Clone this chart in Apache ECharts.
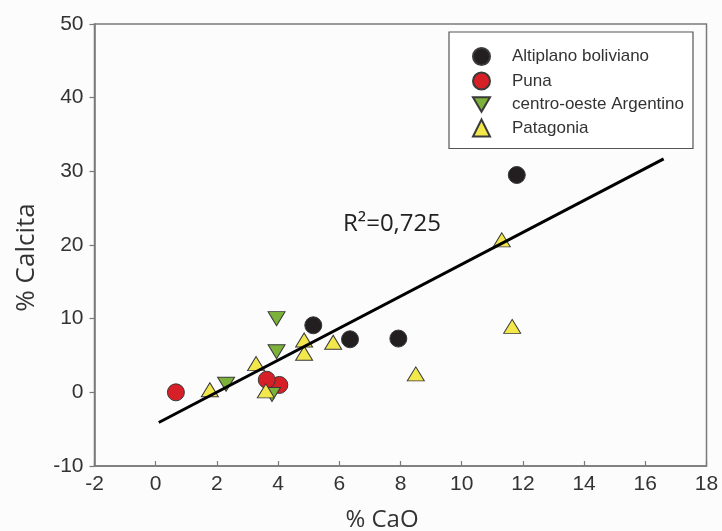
<!DOCTYPE html>
<html>
<head>
<meta charset="utf-8">
<style>
  html, body { margin: 0; padding: 0; background: #fcfcfc; }
  #chart { width: 722px; height: 531px; }
</style>
<script src="https://cdn.jsdelivr.net/npm/echarts@6/dist/echarts.min.js"></script>
</head>
<body>
<div id="chart"></div>
<script>
// Sample groups: [% CaO, % Calcita]
const altiplanoBoliviano = [[5.15, 9.1], [6.35, 7.2], [7.93, 7.3], [11.8, 29.5]];
const puna = [[0.66, 0.0], [4.04, 1.0], [3.63, 1.7]];
const centroOesteArgentino = [[3.8, -0.3], [2.3, 1.1], [3.95, 5.5], [3.95, 10.0]];
const patagonia = [[1.77, 0.35], [3.28, 3.9], [3.6, 0.2], [4.85, 7.1], [4.85, 5.3],
                   [5.8, 6.8], [8.5, 2.5], [11.31, 20.7], [11.65, 8.95]];

// Linear fit endpoints
const fitLine = [[0.1, -4.1], [16.6, 31.7]];
const r2Label = 'R²=0,725';

const seriesNames = ['Altiplano boliviano', 'Puna', 'centro-oeste Argentino', 'Patagonia'];
const xRange = { min: -2, max: 18, step: 2 };
const yRange = { min: -10, max: 50, step: 10 };

const axisGrey = '#7a7a7a';
const labelFont = 'Liberation Sans';
const titleFont = 'Open Sans';
const downTriangle = 'path://M0,0 L20,0 L10,17 Z';
const markerBorder = { borderColor: '#3a3a3a', borderWidth: 1 };

const chart = echarts.init(document.getElementById('chart'), null, { renderer: 'canvas' });

chart.setOption({
  backgroundColor: '#fcfcfc',
  animation: false,
  grid: {
    left: 94.5, top: 24, width: 612, height: 442,
    outerBoundsMode: 'none', containLabel: false,
    show: true, borderColor: axisGrey, borderWidth: 1.5, backgroundColor: 'transparent'
  },
  xAxis: {
    type: 'value', min: xRange.min, max: xRange.max, interval: xRange.step,
    name: '% CaO', nameLocation: 'middle', nameGap: 42,
    nameTextStyle: { fontFamily: titleFont, fontSize: 24, color: '#333', padding: [0, 37, 0, 0] },
    axisLine: { onZero: false, lineStyle: { color: axisGrey, width: 1.5 } },
    axisTick: { inside: true, length: 5, lineStyle: { color: axisGrey, width: 1.2 } },
    axisLabel: { fontFamily: labelFont, fontSize: 21, color: '#333', margin: 8 },
    splitLine: { show: false }
  },
  yAxis: {
    type: 'value', min: yRange.min, max: yRange.max, interval: yRange.step,
    name: '% Calcita', nameLocation: 'middle', nameGap: 55,
    nameTextStyle: { fontFamily: titleFont, fontSize: 26, color: '#333', padding: [0, 25, 0, 0] },
    axisLine: { onZero: false, lineStyle: { color: axisGrey, width: 1.5 } },
    axisTick: { inside: false, length: 5, lineStyle: { color: axisGrey, width: 1.2 } },
    axisLabel: { fontFamily: labelFont, fontSize: 21, color: '#333', margin: 11 },
    splitLine: { show: false }
  },
  legend: {
    data: seriesNames,
    orient: 'vertical',
    left: 449, top: 32,
    padding: [15, 9, 11, 23],
    itemWidth: 17, itemHeight: 17, itemGap: 5.5,
    borderColor: '#555', borderWidth: 1.2,
    backgroundColor: '#fff',
    textStyle: { fontFamily: labelFont, fontSize: 17, color: '#333', padding: [0, 0, 0, 17] }
  },
  graphic: [{
    type: 'text', left: 343, top: 212,
    style: { text: r2Label, font: "24px 'Open Sans', sans-serif", fill: '#222' }
  }],
  series: [
    {
      name: seriesNames[0], type: 'scatter', data: altiplanoBoliviano,
      symbol: 'circle', symbolSize: 17,
      itemStyle: Object.assign({ color: '#231f20', opacity: 1 }, markerBorder)
    },
    {
      name: seriesNames[1], type: 'scatter', data: puna,
      symbol: 'circle', symbolSize: 17,
      itemStyle: Object.assign({ color: '#d71f27', opacity: 1 }, markerBorder)
    },
    {
      name: seriesNames[2], type: 'scatter', data: centroOesteArgentino,
      symbol: downTriangle, symbolSize: [17, 14],
      itemStyle: Object.assign({ color: '#7cb23a', opacity: 1 }, markerBorder)
    },
    {
      name: seriesNames[3], type: 'scatter', data: patagonia,
      symbol: 'triangle', symbolSize: [17, 14],
      itemStyle: Object.assign({ color: '#f2e84b', opacity: 1 }, markerBorder)
    },
    {
      name: 'ajuste', type: 'line', data: fitLine, z: 5,
      showSymbol: false, symbol: 'none', silent: true,
      lineStyle: { color: '#000', width: 3 }
    }
  ]
});
</script>
</body>
</html>
